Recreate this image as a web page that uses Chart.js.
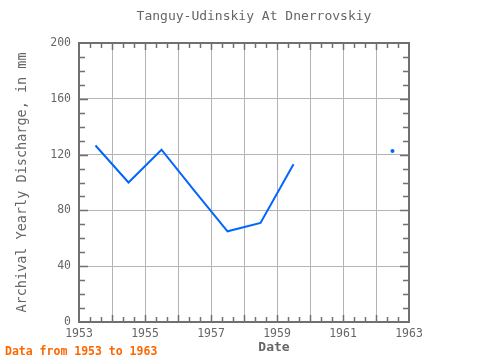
<!DOCTYPE html>
<html>
<head>
<meta charset="utf-8">
<script src="https://cdn.jsdelivr.net/npm/chart.js@4"></script>
<style>
html,body{margin:0;padding:0;background:#fff;}
#wrap{width:480px;height:360px;position:relative;}
</style>
</head>
<body>
<div id="wrap"><canvas id="c" width="480" height="360"></canvas></div>
<script>
const chartTitle = "Tanguy-Udinskiy At Dnerrovskiy";
const xTitle = "Date";
const yTitle = "Archival Yearly Discharge, in mm";
const footNote = "Data from 1953 to 1963";
const years = [1953.5, 1954.5, 1955.5, 1956.5, 1957.5, 1958.5, 1959.5, 1960.5, 1961.5, 1962.5];
const discharge = [126.5, 100, 123.5, 94, 65, 71, 113, null, null, 122.5];
const xMin = 1953, xMax = 1963;
const yMin = 0, yMax = 200, yStep = 40;

const MONO = "'DejaVu Sans Mono', 'Liberation Mono', monospace";
const GRAY = "#666666";

const frame = {
  id: 'frame',
  afterDatasetsDraw(chart) {
    const {ctx, chartArea: a, scales: {x, y}} = chart;
    ctx.save();
    ctx.strokeStyle = '#707070';
    ctx.lineWidth = 1.5;
    ctx.beginPath();
    for (let i = 1; i < (xMax - xMin) * 3; i++) {
      const px = Math.round(x.getPixelForValue(xMin + i / 3)) + 0.5;
      const len = (i % 3 === 0) ? 7 : 5;
      ctx.moveTo(px, a.top); ctx.lineTo(px, a.top + len);
      ctx.moveTo(px, a.bottom); ctx.lineTo(px, a.bottom - len);
    }
    for (let v = yMin + 10; v < yMax; v += 10) {
      const py = Math.round(y.getPixelForValue(v)) + 0.5;
      const len = (v % yStep === 0) ? 9 : 6;
      ctx.moveTo(a.left, py); ctx.lineTo(a.left + len, py);
      ctx.moveTo(a.right, py); ctx.lineTo(a.right - len, py);
    }
    ctx.stroke();
    ctx.lineWidth = 2;
    ctx.strokeRect(a.left, a.top, a.right - a.left, a.bottom - a.top);
    ctx.restore();
  },
  afterDraw(chart) {
    const {ctx} = chart;
    ctx.save();
    ctx.fillStyle = GRAY;
    ctx.textAlign = 'center';
    ctx.textBaseline = 'middle';
    ctx.font = "13px " + MONO;
    ctx.fillText(chartTitle, 254, 17);
    ctx.font = "bold 13px " + MONO;
    ctx.fillText(xTitle, 274, 348);
    ctx.fillStyle = '#ff6600';
    ctx.textAlign = 'left';
    ctx.font = "bold 11.5px " + MONO;
    ctx.fillText(footNote, 5, 352);
    ctx.restore();
  }
};

new Chart(document.getElementById('c'), {
  type: 'line',
  data: {
    labels: years,
    datasets: [{
      data: years.map((yr, i) => ({x: yr, y: discharge[i]})),
      borderColor: '#0066ff',
      backgroundColor: '#0066ff',
      borderWidth: 2,
      spanGaps: false,
      tension: 0,
      pointRadius: (ctx) => {
        const i = ctx.dataIndex;
        const prev = i > 0 ? discharge[i - 1] : null;
        const next = i < discharge.length - 1 ? discharge[i + 1] : null;
        return (discharge[i] !== null && prev === null && next === null) ? 2 : 0;
      },
      pointHoverRadius: 0,
      pointBorderWidth: 0
    }]
  },
  options: {
    responsive: false,
    animation: false,
    events: [],
    layout: {padding: {left: 0, right: 71, top: 43, bottom: 0}},
    plugins: {legend: {display: false}, title: {display: false}, tooltip: {enabled: false}},
    scales: {
      x: {
        type: 'linear',
        min: xMin, max: xMax,
        afterFit(s) { s.height = 38; },
        afterBuildTicks(s) {
          const t = [];
          for (let v = xMin; v <= xMax; v++) t.push({value: v});
          s.ticks = t;
        },
        ticks: {
          autoSkip: false, maxRotation: 0, padding: 5, color: GRAY,
          font: {family: MONO, size: 11.5},
          callback: (v) => ((v - xMin) % 2 === 0 ? String(v) : '')
        },
        grid: {color: '#b4b4b4', lineWidth: 1, drawTicks: false},
        border: {display: false}
      },
      y: {
        min: yMin, max: yMax,
        afterFit(s) { s.width = 79; },
        ticks: {stepSize: yStep, padding: 8, color: GRAY, font: {family: MONO, size: 11.5}},
        grid: {color: '#b4b4b4', lineWidth: 1, drawTicks: false},
        border: {display: false},
        title: {display: true, text: yTitle, color: GRAY, font: {family: MONO, size: 13.5}, padding: {top: 14, bottom: 0}}
      }
    }
  },
  plugins: [frame]
});
</script>
</body>
</html>
